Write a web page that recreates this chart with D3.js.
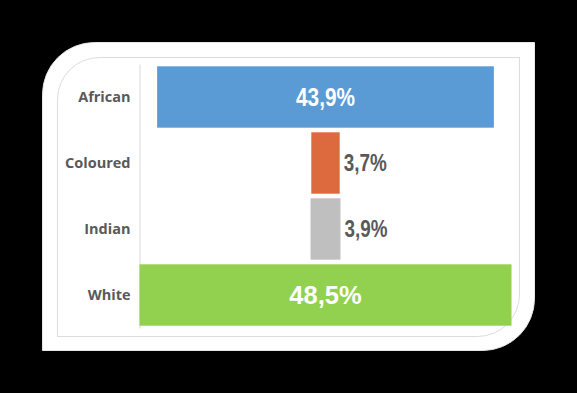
<!DOCTYPE html>
<html lang="en">
<head>
  <meta charset="UTF-8">
  <title>Population share</title>
  <style>
  body { margin: 0; background: #000; }
  #chart { width: 577px; height: 393px; }
  </style>
</head>
<body>
  <div id="chart"></div>
  <script src="https://cdn.jsdelivr.net/npm/d3@7"></script>
  <script>

const categories = ['African', 'Coloured', 'Indian', 'White']
const values = [43.9, 3.7, 3.9, 48.5]
const valueLabels = ['43,9%', '3,7%', '3,9%', '48,5%']
const colors = ['#5b9bd5', '#dd6a3e', '#bfbfbf', '#92d050']

const W = 577, H = 393

const svg = d3.select('#chart').append('svg')
    .attr('width', W)
    .attr('height', H)

svg.append('rect').attr('width', W).attr('height', H).attr('fill', '#000')

// rect with rounded top-left and bottom-right corners only
function cardPath(x0, y0, x1, y1, r) {
  return `M${x0},${y0 + r} A${r},${r} 0 0 1 ${x0 + r},${y0} L${x1},${y0} L${x1},${y1 - r}` +
         ` A${r},${r} 0 0 1 ${x1 - r},${y1} L${x0},${y1} Z`
}

svg.append('path')
    .attr('d', cardPath(42.5, 42.5, 534.5, 350.5, 52))
    .attr('fill', '#fff')
    .attr('stroke', '#e6e6e6')

svg.append('path')
    .attr('d', cardPath(57.5, 57.5, 519.5, 336.5, 42))
    .attr('fill', 'none')
    .attr('stroke', '#dcdcdc')

const y = d3.scaleBand()
    .domain(categories)
    .range([64, 328])
    .paddingInner(0.07)
    .paddingOuter(0.035)

const cx = 325.5
const w = d3.scaleLinear().domain([0, 48.5]).range([0, 372])

const axis = svg.append('g')
    .attr('transform', 'translate(139.5,0)')
    .call(d3.axisLeft(y).tickSize(0).tickPadding(9))

axis.select('.domain').attr('stroke', '#d9d9d9')
axis.selectAll('text')
    .attr('font-family', '"Open Sans", sans-serif')
    .attr('font-weight', 700)
    .attr('font-size', 14.5)
    .attr('fill', '#595959')

const rows = categories.map((c, i) => ({ c, v: values[i], label: valueLabels[i], color: colors[i] }))

svg.selectAll('rect.bar')
  .data(rows)
  .join('rect')
    .attr('class', 'bar')
    .attr('x', d => cx - w(d.v) / 2)
    .attr('y', d => y(d.c))
    .attr('width', d => w(d.v))
    .attr('height', y.bandwidth())
    .attr('fill', d => d.color)

// narrow look for most labels: squeeze the glyphs
const squeeze = { 'African': 0.8, 'Coloured': 0.82, 'Indian': 0.82, 'White': 1 }
const fontSize = { 'African': 26, 'Coloured': 23, 'Indian': 23, 'White': 25.5 }

svg.selectAll('text.val')
  .data(rows)
  .join('text')
    .attr('class', 'val')
    .attr('transform', d => {
      const tx = d.v > 10 ? cx : cx + w(d.v) / 2 + 4
      const ty = y(d.c) + y.bandwidth() / 2
      return `translate(${tx},${ty}) scale(${squeeze[d.c]},1)`
    })
    .attr('dy', '0.36em')
    .attr('text-anchor', d => d.v > 10 ? 'middle' : 'start')
    .attr('font-family', '"Liberation Sans", Arial, sans-serif')
    .attr('font-weight', 700)
    .attr('font-size', d => fontSize[d.c])
    .attr('fill', d => d.v > 10 ? '#fff' : '#595959')
    .text(d => d.label)

  </script>
</body>
</html>
